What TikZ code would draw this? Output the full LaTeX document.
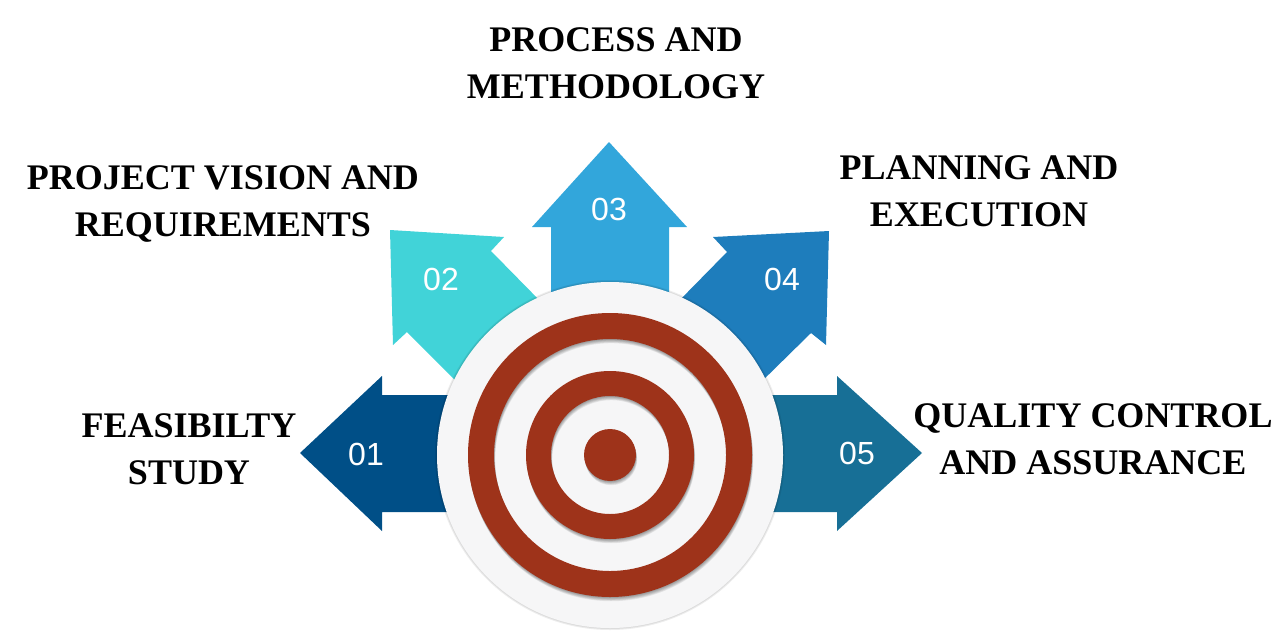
\documentclass[tikz,border=0pt]{standalone}
\usepackage{fontspec}
\setmainfont{Liberation Serif}
\newfontfamily\numfont{Liberation Sans}
\usetikzlibrary{positioning}
\definecolor{arrowa}{HTML}{004F87}
\definecolor{arrowb}{HTML}{41D3D8}
\definecolor{arrowc}{HTML}{32A6DB}
\definecolor{arrowd}{HTML}{1E7DBC}
\definecolor{arrowe}{HTML}{176F96}
\definecolor{targetred}{HTML}{9E331A}
\definecolor{targetwhite}{HTML}{F6F6F7}
\newcommand{\targetring}[2]{
\foreach \s in {1,...,6} {
\fill[black,opacity=0.07,even odd rule] ([xshift=0.2pt*\s,yshift=-0.7pt*\s]target) circle[radius=#1pt] ([xshift=0.2pt*\s,yshift=-0.7pt*\s]target) circle[radius=#2pt];
}
\fill[targetred,even odd rule] (target) circle[radius=#1pt] (target) circle[radius=#2pt];
}
\begin{document}
\begin{tikzpicture}[x=1pt,y=-1pt]
\tikzstyle{heading}=[font=\fontsize{36}{47}\selectfont\bfseries,align=center,
inner sep=0pt,text=black]
\tikzstyle{number}=[font=\fontsize{32}{32}\selectfont\numfont,text=white,inner sep=0pt]
\useasboundingbox (0,0) rectangle (1279,635);

\coordinate (target) at (610,455);

% arrows
\fill[arrowa] (300,453) -- (382,376) -- (382,395) -- (460,395) -- (460,512) -- (382,512) -- (382,531) -- cycle;
\fill[arrowb] (390,230) -- (504,237) -- (491,251) -- (545,306) -- (462,387) -- (407,332) -- (393,345) -- cycle;
\fill[arrowc] (609,142) -- (687,227) -- (669,227) -- (669,300) -- (551,300) -- (551,227) -- (532,227) -- cycle;
\fill[arrowd] (829,231) -- (826,345) -- (811,333) -- (756,387) -- (674,306) -- (727,252) -- (713,237) -- cycle;
\fill[arrowe] (922,453) -- (837,531) -- (837,512) -- (760,512) -- (760,395) -- (837,395) -- (837,376) -- cycle;

\node[number] at (366,454) (n01) {01};
\node[number] at (441,279) (n02) {02};
\node[number] at (609,209) (n03) {03};
\node[number] at (782,279) (n04) {04};
\node[number] at (857,453) (n05) {05};

% target
\foreach \s in {1,2} {
\fill[black,opacity=0.07] (target) circle[radius=173pt+1pt*\s];
}
\fill[targetwhite] (target) circle[radius=173pt];
\targetring{142}{116}
\targetring{84}{59}
\targetring{26}{0.01}

% texts
\node[heading] at (616,63) (process) {PROCESS AND\\METHODOLOGY};
\node[heading] at (223,204) (vision) {PROJECT VISION AND\\REQUIREMENTS};
\node[heading] at (979,191) (planning) {PLANNING AND\\EXECUTION};
\node[heading] at (189,449) (feasibility) {FEASIBILTY\\STUDY};
\node[heading] at (1093,439) (quality) {QUALITY CONTROL\\AND ASSURANCE};
\end{tikzpicture}
\end{document}
